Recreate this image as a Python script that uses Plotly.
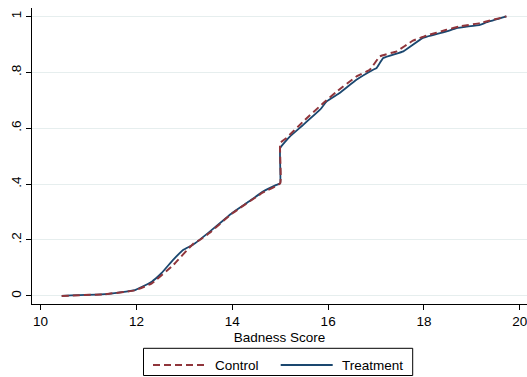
import plotly.graph_objects as go

# Treatment (solid navy)
treat_x = [10.44, 11.34, 11.97, 12.32, 12.52, 12.77, 12.98, 13.18, 13.53, 13.99, 14.30, 14.64, 14.92, 15.0,
           15.0, 15.20, 15.48, 15.83, 15.97, 16.24, 16.59, 16.94, 17.01, 17.15, 17.57, 17.98, 18.47, 18.68,
           19.17, 19.31, 19.72]
treat_y = [0.0, 0.006, 0.021, 0.051, 0.081, 0.13, 0.165, 0.183, 0.230, 0.296, 0.332, 0.373, 0.397, 0.403,
           0.529, 0.570, 0.612, 0.666, 0.696, 0.726, 0.773, 0.809, 0.815, 0.851, 0.875, 0.923, 0.946, 0.958,
           0.970, 0.979, 1.0]

# Control (dashed maroon)
ctrl_x = [10.44, 11.34, 11.97, 12.32, 12.77, 13.18, 13.32, 13.53, 13.99, 14.64, 15.0,
          15.0, 15.13, 15.48, 15.90, 16.18, 16.59, 16.87, 17.08, 17.43, 17.77, 18.05, 18.47, 18.75,
          19.17, 19.72]
ctrl_y = [0.0, 0.006, 0.020, 0.045, 0.111, 0.186, 0.200, 0.226, 0.294, 0.370, 0.403,
          0.547, 0.565, 0.624, 0.690, 0.731, 0.785, 0.809, 0.857, 0.875, 0.913, 0.931, 0.952, 0.964,
          0.976, 1.0]

x_ticks = [10, 12, 14, 16, 18, 20]
y_ticks = [0, 0.2, 0.4, 0.6, 0.8, 1]
y_ticktext = ["0", ".2", ".4", ".6", ".8", "1"]
series_names = ["Control", "Treatment"]

NAVY = "#1A476F"
MAROON = "#90353B"
FONT = dict(family="Liberation Sans, Arial, Helvetica, sans-serif", size=13.5, color="black")

fig = go.Figure()
fig.add_trace(go.Scatter(x=treat_x, y=treat_y, mode="lines", name=series_names[1],
                         line=dict(color=NAVY, width=1.8, shape="spline", smoothing=0.3), showlegend=False))
fig.add_trace(go.Scatter(x=ctrl_x, y=ctrl_y, mode="lines", name=series_names[0],
                         line=dict(color=MAROON, width=2, dash="7px,4px", shape="spline", smoothing=0.3),
                         showlegend=False))

W, H = 527, 377
L, R, T, B = 32, 0, 8, 73
pw, ph = W - L - R, H - T - B

def px2paper_x(px):
    return (px - L) / pw

def px2paper_y(py):
    return (H - B - py) / ph

shapes = []
# legend box
shapes.append(dict(type="rect", xref="paper", yref="paper",
                   x0=px2paper_x(143.5), x1=px2paper_x(412.7),
                   y0=px2paper_y(348.3), y1=px2paper_y(375.5),
                   line=dict(color="black", width=1), fillcolor="white"))
ly = px2paper_y(365)
shapes.append(dict(type="line", xref="paper", yref="paper",
                   x0=px2paper_x(153), x1=px2paper_x(205), y0=ly, y1=ly,
                   line=dict(color=MAROON, width=2, dash="7px,4px")))
shapes.append(dict(type="line", xref="paper", yref="paper",
                   x0=px2paper_x(280.7), x1=px2paper_x(332.7), y0=ly, y1=ly,
                   line=dict(color=NAVY, width=1.8)))

annotations = [
    dict(text=series_names[0], xref="paper", yref="paper", x=px2paper_x(213), y=ly,
         xanchor="left", yanchor="middle", showarrow=False, font=FONT),
    dict(text=series_names[1], xref="paper", yref="paper", x=px2paper_x(340), y=ly,
         xanchor="left", yanchor="middle", showarrow=False, font=FONT),
]

fig.update_layout(
    width=W, height=H,
    margin=dict(l=L, r=R, t=T, b=B),
    paper_bgcolor="white", plot_bgcolor="white",
    font=FONT,
    shapes=shapes, annotations=annotations,
    showlegend=False,
    xaxis=dict(range=[9.82, 20.15], tickvals=x_ticks, ticks="outside", ticklen=5, tickcolor="black",
               showline=True, linecolor="black", linewidth=1, showgrid=False, zeroline=False,
               ticklabeloverflow="allow",
               title=dict(text="Badness Score", font=FONT, standoff=4), tickfont=FONT),
    yaxis=dict(range=[-0.029, 1.03], tickvals=y_ticks, ticktext=y_ticktext, ticks="outside",
               ticklen=5, tickcolor="black", tickangle=-90, ticklabeloverflow="allow",
               showline=True, linecolor="black", linewidth=1, showgrid=True,
               gridcolor="#e6eeee", gridwidth=1, zeroline=False, tickfont=FONT),
)

fig.write_html("out.html", config={"displayModeBar": False},
               post_script="document.body.style.margin='0';document.body.style.padding='0';")
